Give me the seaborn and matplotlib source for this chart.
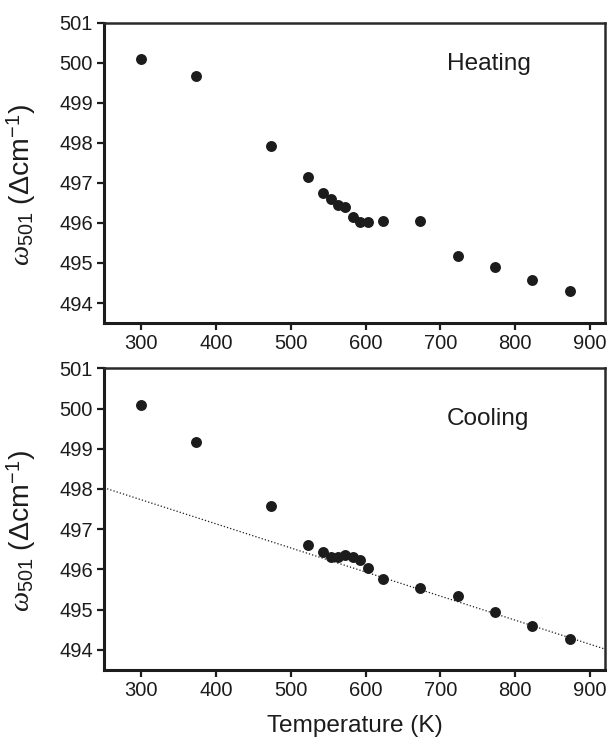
import numpy as np
import pandas as pd
import seaborn as sns
import matplotlib
matplotlib.use('Agg')
import matplotlib.pyplot as plt

# --- DATA ---
temp = [300, 373, 473, 523, 543, 553, 563, 573, 583, 593, 603, 623, 673, 723, 773, 823, 873]
w_heating = [500.09, 499.67, 497.92, 497.16, 496.76, 496.60, 496.44, 496.39, 496.14,
             496.02, 496.03, 496.05, 496.05, 495.18, 494.89, 494.57, 494.29]
w_cooling = [500.10, 499.17, 497.57, 496.61, 496.44, 496.30, 496.30, 496.36, 496.30,
             496.24, 496.04, 495.76, 495.53, 495.33, 494.95, 494.60, 494.27]
fit_temp = [250, 920]
fit_w = [498.03, 494.02]

x_ticks = [300, 400, 500, 600, 700, 800, 900]
y_ticks = [494, 495, 496, 497, 498, 499, 500, 501]

df = pd.DataFrame({'T': temp, 'Heating': w_heating, 'Cooling': w_cooling})
fit = pd.DataFrame({'T': fit_temp, 'w': fit_w})

# --- STYLE ---
sns.set_style('ticks')
plt.rcParams['font.family'] = ['Liberation Sans', 'DejaVu Sans']
plt.rcParams['mathtext.fontset'] = 'custom'
plt.rcParams['mathtext.rm'] = 'Liberation Sans'
plt.rcParams['mathtext.it'] = 'Liberation Serif:italic'
plt.rcParams['mathtext.sf'] = 'Liberation Sans'

INK = '#1c1c1c'
YLABEL = r'$\mathit{\omega}_{501}$ ($\Delta$cm$^{-1}$)'

fig = plt.figure(figsize=(6.08, 7.40), dpi=100)
ax_h = fig.add_axes([0.171, 0.5635, 0.824, 0.4055])
ax_c = fig.add_axes([0.171, 0.0946, 0.824, 0.4077])

panels = [(ax_h, 'Heating', 0.842), (ax_c, 'Cooling', 0.811)]
for ax, col, ty in panels:
    sns.scatterplot(data=df, x='T', y=col, ax=ax, color=INK, s=62,
                    edgecolor=INK, linewidth=0, zorder=3)
    ax.set_xlim(250, 920)
    ax.set_ylim(493.5, 501)
    ax.set_xticks(x_ticks)
    ax.set_yticks(y_ticks)
    ax.tick_params(axis='both', direction='out', length=5, width=1.6,
                   labelsize=14.5, colors=INK, pad=3)
    for side in ['left', 'bottom']:
        ax.spines[side].set_linewidth(2.2)
        ax.spines[side].set_color(INK)
    for side in ['top', 'right']:
        ax.spines[side].set_visible(True)
        ax.spines[side].set_linewidth(1.8)
        ax.spines[side].set_color('#2a2a2a')
    ax.set_ylabel(YLABEL, fontsize=20.5, color=INK)
    ax.yaxis.set_label_coords(-0.132, 0.46)
    ax.set_xlabel('')
    ax.text(0.685, ty, col, transform=ax.transAxes, fontsize=17.6,
            color=INK, ha='left', va='baseline')

sns.lineplot(data=fit, x='T', y='w', ax=ax_c, color=INK, linestyle=':',
             linewidth=0.9, zorder=2)
ax_c.set_ylabel(YLABEL, fontsize=20.5, color=INK)
ax_c.yaxis.set_label_coords(-0.132, 0.46)
ax_c.set_xlabel('Temperature (K)', fontsize=17.6, color=INK, labelpad=11)

fig.savefig('out.png', dpi=100)
